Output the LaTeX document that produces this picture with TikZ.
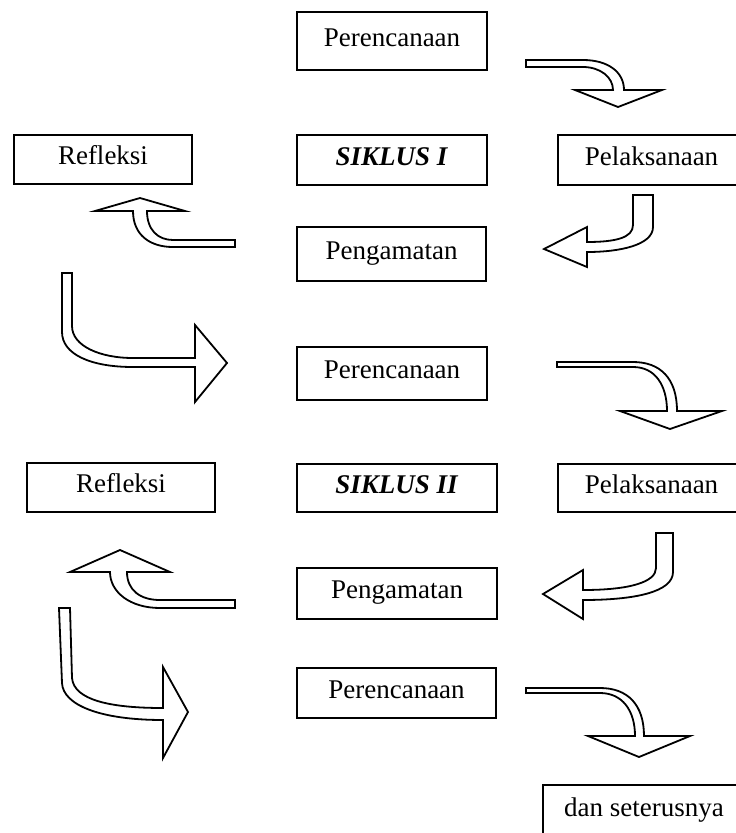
\documentclass[tikz,border=0pt]{standalone}
\usepackage{fontspec}
\setmainfont{Liberation Serif}
\begin{document}
\begin{tikzpicture}[x=1pt,y=-1pt,
  box/.style={draw=black,line width=2.8pt,fill=white,inner sep=0pt,
    font=\fontsize{27}{32}\selectfont,text height=18pt,text depth=8pt},
  barrow/.style={draw=black,fill=white,line width=1.8pt,line join=miter}]
\useasboundingbox (0,0) rectangle (736,833);
\fill[white] (0,0) rectangle (736,833);
\clip (0,0) rectangle (736,833);
% boxes
\node[box,minimum width=190pt,minimum height=58pt] (P1) at (392,41) {Perencanaan};
\node[box,minimum width=190pt,minimum height=50pt] (S1) at (392,160) {\textbf{\textit{SIKLUS I}}};
\node[box,minimum width=187pt,minimum height=50pt] (L1) at (651.5,160) {Pelaksanaan};
\node[box,minimum width=178pt,minimum height=49pt] (R1) at (103,159.5) {Refleksi};
\node[box,minimum width=189pt,minimum height=54pt] (G1) at (391.5,254) {Pengamatan};
\node[box,minimum width=190pt,minimum height=53pt] (P2) at (392,373.5) {Perencanaan};
\node[box,minimum width=200pt,minimum height=48pt] (S2) at (397,488) {\textbf{\textit{SIKLUS II}}};
\node[box,minimum width=187pt,minimum height=48pt] (L2) at (651.5,488) {Pelaksanaan};
\node[box,minimum width=188pt,minimum height=49pt] (R2) at (121,487.5) {Refleksi};
\node[box,minimum width=200pt,minimum height=51pt] (G2) at (397,593.5) {Pengamatan};
\node[box,minimum width=199pt,minimum height=50pt] (P3) at (396.5,693) {Perencanaan};
\node[box,minimum width=202pt,minimum height=52pt] (D) at (644,811) {dan seterusnya};
% block arrows
% A: Perencanaan 1 -> Pelaksanaan 1
\draw[barrow] (526,60) -- (583,60) .. controls (608,60) and (624,72) .. (624,90)
  -- (662,90) -- (618,107) -- (575,90) -- (613,90)
  .. controls (613,77) and (600,67) .. (583,67) -- (526,67) -- cycle;
% B: Pelaksanaan 1 -> Pengamatan 1
\draw[barrow] (633,195) -- (653,195) -- (653,227) .. controls (653,245) and (620,252) .. (587,252)
  -- (587,267) -- (544,249) -- (587,227) -- (587,242)
  .. controls (615,242) and (633,238) .. (633,225) -- cycle;
% C: Pengamatan 1 -> Refleksi 1
\draw[barrow] (235,240) -- (235,247) -- (173,247) .. controls (150,247) and (133,235) .. (133,211)
  -- (95,211) -- (140,198) -- (185,211) -- (147,211)
  .. controls (147,230) and (158,240) .. (173,240) -- cycle;
% D: Refleksi 1 -> Perencanaan 2
\draw[barrow] (62,273) -- (72,273) -- (72,326) .. controls (72,346) and (100,358) .. (133,358)
  -- (195,358) -- (195,325) -- (227,363) -- (195,402) -- (195,367) -- (133,367)
  .. controls (90,367) and (62,354) .. (62,332) -- cycle;
% E: Perencanaan 2 -> Pelaksanaan 2
\draw[barrow] (557,362) -- (633,362) .. controls (660,362) and (677,378) .. (677,411)
  -- (722,411) -- (670,429) -- (620,411) -- (667,411)
  .. controls (667,385) and (655,367) .. (633,367) -- (557,367) -- cycle;
% F: Pelaksanaan 2 -> Pengamatan 2
\draw[barrow] (656,533) -- (673,533) -- (673,572) .. controls (673,592) and (635,600) .. (583,600)
  -- (583,619) -- (543,594) -- (583,570) -- (583,590)
  .. controls (630,590) and (656,582) .. (656,568) -- cycle;
% G: Pengamatan 2 -> Refleksi 2
\draw[barrow] (235,600) -- (235,608) -- (160,608) .. controls (130,608) and (110,592) .. (110,572)
  -- (70,572) -- (120,550) -- (170,572) -- (127,572)
  .. controls (127,590) and (140,600) .. (160,600) -- cycle;
% H: Refleksi 2 -> Perencanaan 3
\draw[barrow] (59,608) -- (70,608) -- (72,678) .. controls (74,700) and (110,708) .. (163,708)
  -- (163,667) -- (188,712) -- (163,758) -- (163,720)
  .. controls (100,720) and (63,705) .. (62,683) -- cycle;
% I: Perencanaan 3 -> dan seterusnya
\draw[barrow] (526,688) -- (600,688) .. controls (628,688) and (644,705) .. (644,736)
  -- (690,736) -- (639,757) -- (588,736) -- (635,736)
  .. controls (635,710) and (622,693) .. (600,693) -- (526,693) -- cycle;
\end{tikzpicture}
\end{document}
